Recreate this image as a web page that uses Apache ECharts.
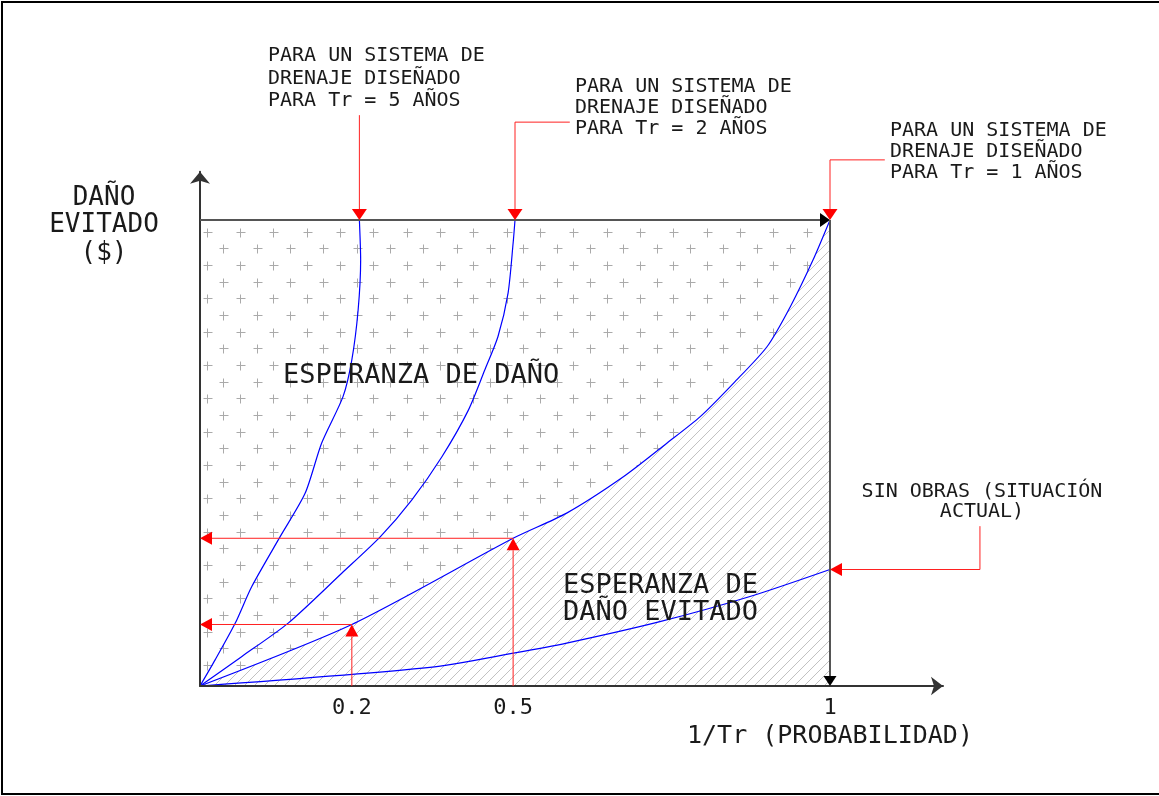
<!DOCTYPE html>
<html><head><meta charset="utf-8">
<script src="https://cdn.jsdelivr.net/npm/echarts@6/dist/echarts.min.js"></script>
<style>html,body{margin:0;padding:0;background:#fff}#c{width:1159px;height:796px}</style>
</head><body><div id="c"></div>
<script>
// ---- data (x: 1/Tr position on the drawing's axis, y: daño evitado, frame top = 1) ----
const tickPositions = [0.241, 0.497, 1];
const tickLabels = ['0.2', '0.5', '1'];

const curveTr5 = [[0,0],[0.024,0.056],[0.056,0.135],[0.082,0.213],[0.127,0.320],[0.167,0.414],[0.193,0.521],[0.227,0.621],[0.241,0.700],[0.251,0.807],[0.255,0.914],[0.253,1.0]];
const curveTr2 = [[0,0],[0.066,0.063],[0.140,0.135],[0.225,0.242],[0.286,0.320],[0.336,0.399],[0.384,0.492],[0.426,0.592],[0.452,0.678],[0.473,0.750],[0.489,0.843],[0.497,0.950],[0.5,1.0]];
const curveTr1 = [[0,0],[0.241,0.132],[0.497,0.317],[0.582,0.371],[0.672,0.449],[0.741,0.521],[0.794,0.578],[0.847,0.650],[0.900,0.728],[0.937,0.814],[0.973,0.914],[1.0,1.0]];
const curveSinObras = [[0,0],[0.365,0.040],[0.5,0.071],[0.582,0.092],[0.730,0.138],[0.873,0.192],[1.0,0.250]];
const frameTop = [[0,1],[1,1]];

// annotation leader lines (data coordinates), arrow at last point
const leaderTr5 = [[0.253,1.225],[0.253,1.0]];
const leaderTr2 = [[0.587,1.210],[0.5,1.210],[0.5,1.0]];
const leaderTr1 = [[1.087,1.129],[1.0,1.129],[1.0,1.0]];
const leaderSinObras = [[1.238,0.343],[1.238,0.250],[1.0,0.250]];

const textTr5 = ['PARA UN SISTEMA DE','DRENAJE DISEÑADO','PARA Tr = 5 AÑOS'];
const textTr2 = ['PARA UN SISTEMA DE','DRENAJE DISEÑADO','PARA Tr = 2 AÑOS'];
const textTr1 = ['PARA UN SISTEMA DE','DRENAJE DISEÑADO','PARA Tr = 1 AÑOS'];
const textSinObras = ['SIN OBRAS (SITUACIÓN','ACTUAL)'];
const yTitle = ['DAÑO','EVITADO','($)'];
const xTitle = '1/Tr (PROBABILIDAD)';
const areaUpper = 'ESPERANZA DE DAÑO';
const areaLower = ['ESPERANZA DE','DAÑO EVITADO'];

// ---- patterns ----
function makePlusTile(){
  const c=document.createElement('canvas');c.width=100;c.height=100;
  const g=c.getContext('2d');g.fillStyle='#fff';g.fillRect(0,0,100,100);
  g.strokeStyle='#aaaaaa';g.lineWidth=1;
  const s=100/3;const cs=[];
  for(let i=0;i<3;i++)for(let j=0;j<3;j++){cs.push([6.7+s*i,31.7+s*j]);cs.push([23.3+s*i,15+s*j]);}
  g.beginPath();
  cs.forEach(([cx,cy])=>{
    for(const ox of [-100,0,100])for(const oy of [-100,0,100]){
      const x=Math.round(cx+ox)+0.5,y=Math.round(cy+oy)+0.5;
      g.moveTo(x-4,y);g.lineTo(x+5,y);g.moveTo(x,y-4);g.lineTo(x,y+5);
    }
  });
  g.stroke();return c;
}
function makeHatchTile(){
  const c=document.createElement('canvas');c.width=10;c.height=10;
  const g=c.getContext('2d');g.fillStyle='#fff';g.fillRect(0,0,10,10);
  g.strokeStyle='#c2c2c2';g.lineWidth=1;g.beginPath();
  for(const k of [0,10,20]){g.moveTo(-2,k+2);g.lineTo(k+2,-2);}
  g.stroke();return c;
}
const plusTile=makePlusTile();
const hatchTile=makeHatchTile();

const FONT='DejaVu Sans Mono';
const TXT='#1a1a1a';

function arrowEls(api,pts,lineColor,headColor,lw,headW,headL){
  const px=pts.map(p=>api.coord(p));
  const n=px.length,tip=px[n-1],prev=px[n-2];
  let dx=tip[0]-prev[0],dy=tip[1]-prev[1];const L=Math.hypot(dx,dy)||1;dx/=L;dy/=L;
  const bx=tip[0]-dx*headL,by=tip[1]-dy*headL,nx=-dy,ny=dx;
  const linePts=px.slice(0,n-1).concat([[bx,by]]);
  return [
    {type:'polyline',shape:{points:linePts},style:{stroke:lineColor,lineWidth:lw,fill:null}},
    {type:'polygon',shape:{points:[tip,[bx+nx*headW/2,by+ny*headW/2],[bx-nx*headW/2,by-ny*headW/2]]},style:{fill:headColor}}
  ];
}

const pTr5=curveTr1[1], pTr2=curveTr1[2];
const annotations=[
  {pts:frameTop,line:'#555',head:'#000',lw:2,w:14,l:10},
  {pts:[[1,1],[1,0]],line:'#555',head:'#000',lw:2,w:13,l:10},
  {pts:[[pTr5[0],0],pTr5],line:'#ff2020',head:'#ff0000',lw:1,w:13,l:12},
  {pts:[pTr5,[0,pTr5[1]]],line:'#ff2020',head:'#ff0000',lw:1,w:13,l:12},
  {pts:[[pTr2[0],0],pTr2],line:'#ff2020',head:'#ff0000',lw:1,w:13,l:12},
  {pts:[pTr2,[0,pTr2[1]]],line:'#ff2020',head:'#ff0000',lw:1,w:13,l:12},
  {pts:leaderTr5,line:'#ff2020',head:'#ff0000',lw:1,w:15,l:11},
  {pts:leaderTr2,line:'#ff2020',head:'#ff0000',lw:1,w:15,l:11},
  {pts:leaderTr1,line:'#ff2020',head:'#ff0000',lw:1,w:15,l:11},
  {pts:leaderSinObras,line:'#ff2020',head:'#ff0000',lw:1,w:13,l:12}
];

function txt(x,y,s,size,align){
  return {type:'text',x:x,y:y,z:100,silent:true,style:{text:s,fontFamily:FONT,fontSize:size,fill:TXT,align:align||'left',verticalAlign:'middle'}};
}
const graphics=[
  {type:'rect',shape:{x:2,y:2,width:1200,height:792},style:{fill:null,stroke:'#000',lineWidth:2},silent:true,z:100}
];
textTr5.forEach((s,i)=>graphics.push(txt(268,56+i*22.5,s,20)));
textTr2.forEach((s,i)=>graphics.push(txt(575,87+i*21,s,20)));
textTr1.forEach((s,i)=>graphics.push(txt(890,131+i*21,s,20)));
textSinObras.forEach((s,i)=>graphics.push(txt(982,491.5+i*20.5,s,20,'center')));
yTitle.forEach((s,i)=>graphics.push(txt(104,198+i*27.5,s,26,'center')));
graphics.push(txt(687,736.5,xTitle,25));
graphics.push(txt(283,376,areaUpper,27));
areaLower.forEach((s,i)=>graphics.push(txt(563,586+i*27,s,27)));

const chart=echarts.init(document.getElementById('c'),null,{renderer:'canvas'});
chart.setOption({
  animation:false,
  backgroundColor:'#fff',
  grid:{left:200,top:171.7,width:743,height:514.3,containLabel:false},
  xAxis:{type:'value',min:0,max:743/630,z:3,
    axisLine:{show:true,onZero:true,symbol:['none','arrow'],symbolSize:[14,12],lineStyle:{color:'#333',width:2}},
    axisTick:{show:false},splitLine:{show:false},
    axisLabel:{customValues:tickPositions,margin:11,fontFamily:FONT,fontSize:22,color:TXT,
      formatter:v=>{let b=0;tickPositions.forEach((t,i)=>{if(Math.abs(t-v)<Math.abs(tickPositions[b]-v))b=i;});return tickLabels[b];}}},
  yAxis:{type:'value',min:0,max:514.3/466,z:3,
    axisLine:{show:true,onZero:true,symbol:['none','arrow'],symbolSize:[15,12],lineStyle:{color:'#333',width:2}},
    axisTick:{show:false},splitLine:{show:false},axisLabel:{show:false}},
  graphic:graphics,
  series:[
    {type:'line',name:'plus',data:frameTop,symbol:'none',silent:true,z:1,lineStyle:{width:0},
      areaStyle:{color:{image:plusTile,repeat:'repeat'},opacity:1}},
    {type:'line',name:'Tr = 1',data:curveTr1,smooth:0.25,symbol:'none',z:2,
      lineStyle:{color:'#0000ff',width:1.2},areaStyle:{color:{image:hatchTile,repeat:'repeat'},opacity:1}},
    {type:'line',name:'Tr = 2',data:curveTr2,smooth:0.25,symbol:'none',z:2,lineStyle:{color:'#0000ff',width:1.2}},
    {type:'line',name:'Tr = 5',data:curveTr5,smooth:0.25,symbol:'none',z:2,lineStyle:{color:'#0000ff',width:1.2}},
    {type:'line',name:'Sin obras',data:curveSinObras,smooth:0.25,symbol:'none',z:2,lineStyle:{color:'#0000ff',width:1.2}},
    {type:'custom',name:'anotaciones',z:4,silent:true,clip:false,
      data:annotations.map((a,i)=>[i,0]),
      renderItem:(params,api)=>{
        const a=annotations[params.dataIndex];
        return {type:'group',children:arrowEls(api,a.pts,a.line,a.head,a.lw,a.w,a.l)};
      }}
  ]
});
</script></body></html>
